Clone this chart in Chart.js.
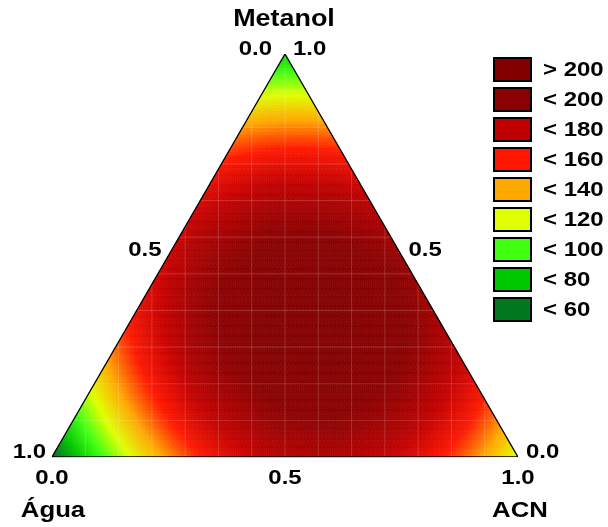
<!DOCTYPE html>
<html>
<head>
<meta charset="utf-8">
<script src="https://cdn.jsdelivr.net/npm/chart.js@4.4.0/dist/chart.umd.min.js"></script>
<style>
  body { margin: 0; background: #fff; }
  #wrap { width: 608px; height: 527px; position: relative; }
</style>
</head>
<body>
<div id="wrap"><canvas id="mixChart"></canvas></div>
<script>
// response: value at each pure component + blending terms
const components = ["Água", "Metanol", "ACN"];
const pureValues = [55, 82, 118];
const pairFirst = [0, 0, 1];
const pairSecond = [1, 2, 2];
const pairCoefs = [435, 385, 375];
const ternaryCoef = -150;

const levelLabels = ["> 200", "< 200", "< 180", "< 160", "< 140", "< 120", "< 100", "< 80", "< 60"];
const levelColors = ["#800000", "#8b0000", "#c00000", "#ff1800", "#ffa800", "#e0ff00", "#40ff10", "#00c800", "#007820"];
const levelAnchors = [220, 200, 180, 160, 140, 120, 100, 80, 60];
const tickLabels = ["0.0", "0.5", "1.0"];

const H = Math.sqrt(3) / 2;
const STRETCH = 1.17;

// água, metanol, acn -> plot coordinates
const toXY = (a, m, c) => ({ x: c + m / 2, y: m * H });

const response = (comp) => {
  let v = 0;
  for (let i = 0; i < 3; i++) v += pureValues[i] * comp[i];
  for (let k = 0; k < pairCoefs.length; k++) {
    v += pairCoefs[k] * comp[pairFirst[k]] * comp[pairSecond[k]];
  }
  v += ternaryCoef * comp[0] * comp[1] * comp[2];
  return v;
};

const hexToRgb = (h) => [1, 3, 5].map(i => parseInt(h.substr(i, 2), 16));

const colourFor = (v) => {
  const n = levelAnchors.length;
  if (v >= levelAnchors[0]) return levelColors[0];
  if (v <= levelAnchors[n - 1]) return levelColors[n - 1];
  for (let i = 0; i < n - 1; i++) {
    const hi = levelAnchors[i], lo = levelAnchors[i + 1];
    if (v <= hi && v >= lo) {
      const t = (v - lo) / (hi - lo);
      const a = hexToRgb(levelColors[i + 1]), b = hexToRgb(levelColors[i]);
      const r = a.map((x, j) => Math.round(x + (b[j] - x) * t));
      return `rgb(${r[0]},${r[1]},${r[2]})`;
    }
  }
};

const corners = [toXY(1, 0, 0), toXY(0, 0, 1), toXY(0, 1, 0), toXY(1, 0, 0)];

const drawText = (ctx, txt, x, y, size, align) => {
  ctx.save();
  ctx.translate(x, y);
  ctx.scale(STRETCH, 1);
  ctx.font = `bold ${size}px "Liberation Sans", Arial, sans-serif`;
  ctx.fillStyle = "#000";
  ctx.textAlign = align;
  ctx.textBaseline = "middle";
  ctx.fillText(txt, 0, 0);
  ctx.restore();
};

const surfacePlugin = {
  id: "surface",
  beforeDatasetsDraw(chart) {
    const { ctx, scales: { x, y } } = chart;
    const px = (p) => [x.getPixelForValue(p.x), y.getPixelForValue(p.y)];
    const N = 120;
    ctx.save();
    for (let i = 0; i < N; i++) {
      for (let j = 0; j < N - i; j++) {
        // barycentric grid: i steps of metanol, j steps of acn
        const tris = [[[i, j], [i, j + 1], [i + 1, j]]];
        if (i + j + 2 <= N) tris.push([[i, j + 1], [i + 1, j + 1], [i + 1, j]]);
        tris.forEach(tri => {
          let cm = 0, cc = 0;
          const pts = tri.map(([mi, cj]) => {
            const m = mi / N, c = cj / N;
            cm += m / 3; cc += c / 3;
            return px(toXY(1 - m - c, m, c));
          });
          const col = colourFor(response([1 - cm - cc, cm, cc]));
          ctx.beginPath();
          ctx.moveTo(pts[0][0], pts[0][1]);
          ctx.lineTo(pts[1][0], pts[1][1]);
          ctx.lineTo(pts[2][0], pts[2][1]);
          ctx.closePath();
          ctx.fillStyle = col;
          ctx.strokeStyle = col;
          ctx.lineWidth = 0.6;
          ctx.fill();
          ctx.stroke();
        });
      }
    }
    // faint mesh over the surface
    ctx.beginPath();
    const c0 = px(corners[0]), c1 = px(corners[1]), c2 = px(corners[2]);
    ctx.moveTo(c0[0], c0[1]); ctx.lineTo(c1[0], c1[1]); ctx.lineTo(c2[0], c2[1]); ctx.closePath();
    ctx.clip();
    ctx.strokeStyle = "rgba(255,255,255,0.16)";
    ctx.lineWidth = 1;
    for (let k = 1; k < 14; k++) {
      const xx = x.getPixelForValue(k / 14);
      ctx.beginPath(); ctx.moveTo(xx, c2[1]); ctx.lineTo(xx, c0[1]); ctx.stroke();
    }
    for (let k = 1; k < 11; k++) {
      const yy = y.getPixelForValue(k * H / 11);
      ctx.beginPath(); ctx.moveTo(c0[0], yy); ctx.lineTo(c1[0], yy); ctx.stroke();
    }
    ctx.restore();
  },
  afterDraw(chart) {
    const { ctx, scales: { x, y } } = chart;
    const px = (p) => [x.getPixelForValue(p.x), y.getPixelForValue(p.y)];
    const bl = px(toXY(1, 0, 0)), br = px(toXY(0, 0, 1)), top = px(toXY(0, 1, 0));
    const leftMid = px(toXY(0.5, 0.5, 0)), rightMid = px(toXY(0, 0.5, 0.5)), botMid = px(toXY(0.5, 0, 0.5));

    drawText(ctx, components[1], top[0] - 1, 20, 23, "center");
    drawText(ctx, tickLabels[0], top[0] - 13, top[1] - 5, 20.5, "right");
    drawText(ctx, tickLabels[2], top[0] + 8, top[1] - 5, 20.5, "left");
    drawText(ctx, tickLabels[1], leftMid[0] - 7, leftMid[1] - 5, 20.5, "right");
    drawText(ctx, tickLabels[1], rightMid[0] + 7, rightMid[1] - 5, 20.5, "left");
    drawText(ctx, tickLabels[2], bl[0] - 6, bl[1] - 5, 20.5, "right");
    drawText(ctx, tickLabels[0], br[0] + 8, br[1] - 5, 20.5, "left");
    drawText(ctx, tickLabels[0], bl[0], bl[1] + 21, 20.5, "center");
    drawText(ctx, tickLabels[1], botMid[0], botMid[1] + 21, 20.5, "center");
    drawText(ctx, tickLabels[2], br[0], br[1] + 21, 20.5, "center");
    drawText(ctx, components[0], bl[0] + 1, bl[1] + 54, 22, "center");
    drawText(ctx, components[2], br[0] + 2, br[1] + 54, 22, "center");

    // legend
    levelLabels.forEach((lab, i) => {
      const by = 57 + i * 30;
      ctx.fillStyle = levelColors[i];
      ctx.fillRect(494, by + 1, 37, 23);
      ctx.strokeStyle = "#000";
      ctx.lineWidth = 2;
      ctx.strokeRect(494, by + 1, 37, 23);
      drawText(ctx, lab, 543, by + 13, 20.5, "left");
    });
  }
};

new Chart(document.getElementById("mixChart"), {
  type: "scatter",
  data: {
    datasets: [{
      data: corners,
      showLine: true,
      borderColor: "#000",
      borderWidth: 1.3,
      pointRadius: 0,
      fill: false,
    }],
  },
  options: {
    responsive: true,
    maintainAspectRatio: false,
    animation: false,
    layout: { padding: { left: 52, right: 90, top: 54, bottom: 70 } },
    scales: {
      x: { type: "linear", min: 0, max: 1, display: false },
      y: { type: "linear", min: 0, max: H, display: false },
    },
    plugins: {
      legend: { display: false },
      tooltip: { enabled: false },
    },
  },
  plugins: [surfacePlugin],
});
</script>
</body>
</html>
